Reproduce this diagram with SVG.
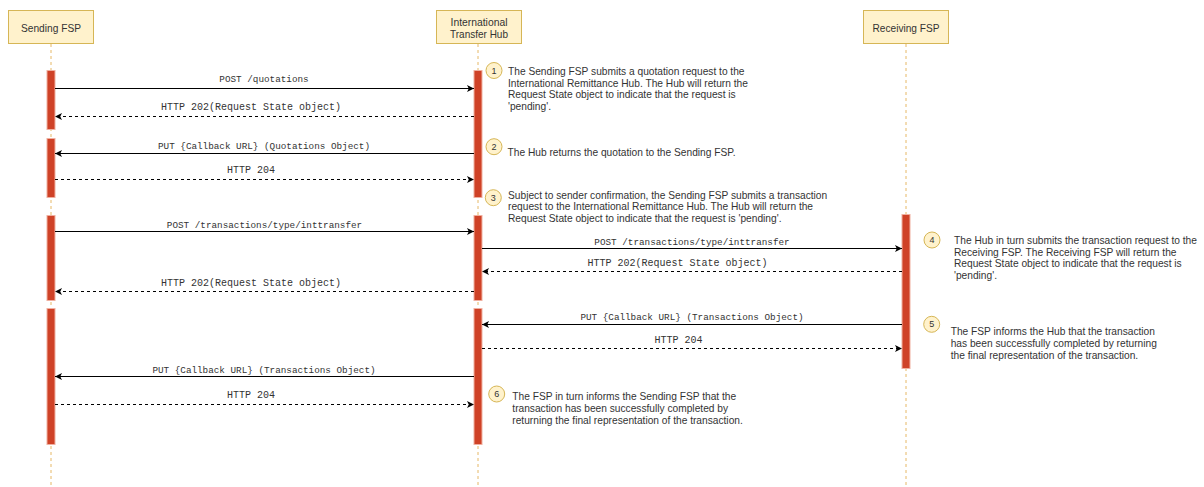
<svg xmlns="http://www.w3.org/2000/svg" width="1204" height="487" viewBox="0 0 1204 487">
<style>
.hdr{fill:#fff2cc;stroke:#d6b656;stroke-width:1}
.htxt{font-family:"Liberation Sans",Arial,sans-serif;font-size:11px;fill:#333;text-anchor:middle}
.life{stroke:#e6b866;stroke-width:1;stroke-dasharray:3,3;fill:none}
.act{fill:#cf4227;stroke:#f0b0a0;stroke-width:1}
.msg{stroke:#000;stroke-width:1;fill:none}
.ret{stroke:#000;stroke-width:1;fill:none;stroke-dasharray:3,3}
.lbl{font-family:"Liberation Mono","Courier New",monospace;font-size:9.3px;fill:#333;text-anchor:middle}
.lbl2{font-family:"Liberation Mono","Courier New",monospace;font-size:10px;fill:#333;text-anchor:middle}
.num{fill:#fff2cc;stroke:#d6b656;stroke-width:1}
.ntxt{font-family:"Liberation Sans",Arial,sans-serif;font-size:9px;fill:#333;text-anchor:middle}
.note{font-family:"Liberation Sans",Arial,sans-serif;font-size:10.2px;fill:#333}
</style>
<defs>
<marker id="ah" viewBox="0 0 10 10" refX="10" refY="5" markerWidth="7" markerHeight="7" markerUnits="userSpaceOnUse" orient="auto">
<path d="M0,0 L10,5 L0,10 L2.5,5 Z" fill="#000"/>
</marker>
</defs>
<rect width="1204" height="487" fill="#fff"/>
<g id="sending-fsp">
<line class="life" x1="51" y1="44" x2="51" y2="487"/>
<rect class="hdr" x="8.5" y="10.5" width="85" height="33"/>
<text class="htxt" x="51" y="31.5" textLength="60" lengthAdjust="spacingAndGlyphs">Sending FSP</text>
<rect class="act" x="47" y="70.5" width="8" height="59"/>
<rect class="act" x="47" y="138.5" width="8" height="59"/>
<rect class="act" x="47" y="215.5" width="8" height="85"/>
<rect class="act" x="47" y="308.5" width="8" height="136"/>
</g>
<g id="hub">
<line class="life" x1="478" y1="44" x2="478" y2="487"/>
<rect class="hdr" x="436.5" y="10.5" width="85" height="33"/>
<text class="htxt" x="479" y="26" textLength="57" lengthAdjust="spacingAndGlyphs">International</text>
<text class="htxt" x="479" y="37.5" textLength="58" lengthAdjust="spacingAndGlyphs">Transfer Hub</text>
<rect class="act" x="474" y="70.5" width="8" height="127"/>
<rect class="act" x="474" y="215.5" width="8" height="85"/>
<rect class="act" x="474" y="308.5" width="8" height="136"/>
</g>
<g id="receiving-fsp">
<line class="life" x1="906" y1="44" x2="906" y2="487"/>
<rect class="hdr" x="863.5" y="10.5" width="85" height="33"/>
<text class="htxt" x="906" y="31.5" textLength="67" lengthAdjust="spacingAndGlyphs">Receiving FSP</text>
<rect class="act" x="902" y="214.5" width="8" height="154"/>
</g>
<g id="connectors">
<line class="msg" x1="55" y1="88.5" x2="474" y2="88.5" marker-end="url(#ah)"/>
<text class="lbl" x="264" y="82">POST /quotations</text>
<line class="ret" x1="474" y1="116.5" x2="55" y2="116.5" marker-end="url(#ah)"/>
<text class="lbl2" x="251" y="110">HTTP 202(Request State object)</text>
<line class="msg" x1="474" y1="153.5" x2="55" y2="153.5" marker-end="url(#ah)"/>
<text class="lbl" x="264" y="149">PUT {Callback URL} (Quotations Object)</text>
<line class="ret" x1="55" y1="179.5" x2="474" y2="179.5" marker-end="url(#ah)"/>
<text class="lbl2" x="251" y="172.5">HTTP 204</text>
<line class="msg" x1="55" y1="231.5" x2="474" y2="231.5" marker-end="url(#ah)"/>
<text class="lbl" x="264.5" y="227.5">POST /transactions/type/inttransfer</text>
<line class="ret" x1="474" y1="291.5" x2="55" y2="291.5" marker-end="url(#ah)"/>
<text class="lbl2" x="251" y="286">HTTP 202(Request State object)</text>
<line class="msg" x1="482" y1="248.5" x2="902" y2="248.5" marker-end="url(#ah)"/>
<text class="lbl" x="692" y="244.5">POST /transactions/type/inttransfer</text>
<line class="ret" x1="902" y1="271.5" x2="482" y2="271.5" marker-end="url(#ah)"/>
<text class="lbl2" x="677.5" y="265.5">HTTP 202(Request State object)</text>
<line class="msg" x1="902" y1="324.5" x2="482" y2="324.5" marker-end="url(#ah)"/>
<text class="lbl" x="692" y="320">PUT {Callback URL} (Transactions Object)</text>
<line class="ret" x1="482" y1="348.5" x2="902" y2="348.5" marker-end="url(#ah)"/>
<text class="lbl2" x="678.5" y="342.5">HTTP 204</text>
<line class="msg" x1="474" y1="376.5" x2="55" y2="376.5" marker-end="url(#ah)"/>
<text class="lbl" x="264" y="372.5">PUT {Callback URL} (Transactions Object)</text>
<line class="ret" x1="55" y1="404.5" x2="474" y2="404.5" marker-end="url(#ah)"/>
<text class="lbl2" x="251" y="397.5">HTTP 204</text>
</g>
<g id="note1">
<circle class="num" cx="494" cy="70.5" r="8"/>
<text class="ntxt" x="494" y="73.5">1</text>
<text class="note" x="508" y="74.7">The Sending FSP submits a quotation request to the</text>
<text class="note" x="508" y="86.5">International Remittance Hub. The Hub will return the</text>
<text class="note" x="508" y="98.3">Request State object to indicate that the request is</text>
<text class="note" x="508" y="110.1">'pending'.</text>
</g>
<g id="note2">
<circle class="num" cx="494" cy="146.7" r="8"/>
<text class="ntxt" x="494" y="149.7">2</text>
<text class="note" x="507.5" y="155.5">The Hub returns the quotation to the Sending FSP.</text>
</g>
<g id="note3">
<circle class="num" cx="493.3" cy="197.7" r="8"/>
<text class="ntxt" x="493.3" y="200.7">3</text>
<text class="note" x="508" y="198.7">Subject to sender confirmation, the Sending FSP submits a transaction</text>
<text class="note" x="508" y="210.1">request to the International Remittance Hub. The Hub will return the</text>
<text class="note" x="508" y="221.5">Request State object to indicate that the request is 'pending'.</text>
</g>
<g id="note4">
<circle class="num" cx="932" cy="240" r="8"/>
<text class="ntxt" x="932" y="243">4</text>
<text class="note" x="954" y="244">The Hub in turn submits the transaction request to the</text>
<text class="note" x="954" y="255.5">Receiving FSP. The Receiving FSP will return the</text>
<text class="note" x="954" y="267">Request State object to indicate that the request is</text>
<text class="note" x="954" y="278.5">'pending'.</text>
</g>
<g id="note5">
<circle class="num" cx="931.7" cy="324.3" r="8"/>
<text class="ntxt" x="931.7" y="327.3">5</text>
<text class="note" x="950.7" y="334.7">The FSP informs the Hub that the transaction</text>
<text class="note" x="950.7" y="346.5">has been successfully completed by returning</text>
<text class="note" x="950.7" y="358.5">the final representation of the transaction.</text>
</g>
<g id="note6">
<circle class="num" cx="496.7" cy="394" r="8"/>
<text class="ntxt" x="496.7" y="397">6</text>
<text class="note" x="512.3" y="400.4">The FSP in turn informs the Sending FSP that the</text>
<text class="note" x="512.3" y="412">transaction has been successfully completed by</text>
<text class="note" x="512.3" y="423.7">returning the final representation of the transaction.</text>
</g>
</svg>
